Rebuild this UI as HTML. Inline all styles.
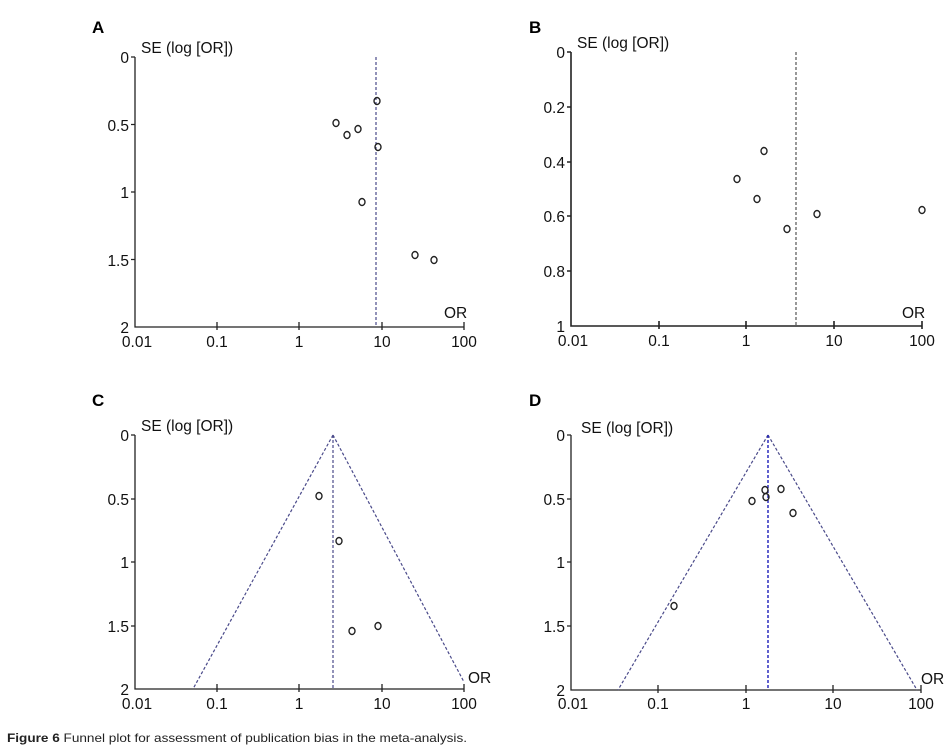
<!DOCTYPE html><html><head><style>body{margin:0;background:#fff}svg{display:block}text{font-family:"Liberation Sans",sans-serif}</style></head><body>
<svg width="951" height="749" viewBox="0 0 951 749" xmlns="http://www.w3.org/2000/svg">
<g font-size="17" font-weight="bold" fill="#000">
<text x="92" y="33">A</text><text x="529" y="33">B</text><text x="92" y="406">C</text><text x="529" y="406">D</text></g>
<g fill="none" stroke="#222" stroke-width="1.3">
<path d="M135 57V327H464M131 57H135M131 124.5H135M131 192H135M131 259.5H135M217 322V330M299 322V330M382 322V330M464 322V330"/>
<path d="M571 52V326H922M567 52H571M567 107H571M567 162H571M567 216H571M567 271H571M659 321V329M746 321V329M834 321V329M922 321V329" stroke-width="1.6"/>
<path d="M135 435V689H464M131 435H135M131 499H135M131 562H135M131 626H135M217 684V692M299 684V692M382 684V692M464 684V692"/>
<path d="M571 435V690H921M567 435H571M567 499H571M567 562H571M567 626H571M658 685V693M746 685V693M833 685V693M921 685V693"/>
</g>
<g fill="none" stroke="#4a4a8a" stroke-width="1.2" stroke-dasharray="3,2">
<path d="M376 57V327"/>
<path d="M796 52V326" stroke="#555"/>
<path d="M333 435V689M333 435L193 689M333 435L464 682"/>
<path d="M768 435V690M768 435L618 690M768 435L917 690"/>
</g>
<path d="M768 435V690" stroke="#2020c0" stroke-width="1.3" stroke-dasharray="3,2"/>
<g fill="none" stroke="#222" stroke-width="1.4">
<ellipse cx="336" cy="123" rx="3" ry="3.5"/><ellipse cx="347" cy="135" rx="3" ry="3.5"/><ellipse cx="358" cy="129" rx="3" ry="3.5"/><ellipse cx="377" cy="101" rx="3" ry="3.5"/><ellipse cx="378" cy="147" rx="3" ry="3.5"/><ellipse cx="362" cy="202" rx="3" ry="3.5"/><ellipse cx="415" cy="255" rx="3" ry="3.5"/><ellipse cx="434" cy="260" rx="3" ry="3.5"/>
<ellipse cx="764" cy="151" rx="3" ry="3.5"/><ellipse cx="737" cy="179" rx="3" ry="3.5"/><ellipse cx="757" cy="199" rx="3" ry="3.5"/><ellipse cx="787" cy="229" rx="3" ry="3.5"/><ellipse cx="817" cy="214" rx="3" ry="3.5"/><ellipse cx="922" cy="210" rx="3" ry="3.5"/>
<ellipse cx="319" cy="496" rx="3" ry="3.5"/><ellipse cx="339" cy="541" rx="3" ry="3.5"/><ellipse cx="352" cy="631" rx="3" ry="3.5"/><ellipse cx="378" cy="626" rx="3" ry="3.5"/>
<ellipse cx="765" cy="490" rx="3" ry="3.5"/><ellipse cx="766" cy="497" rx="3" ry="3.5"/><ellipse cx="752" cy="501" rx="3" ry="3.5"/><ellipse cx="781" cy="489" rx="3" ry="3.5"/><ellipse cx="793" cy="513" rx="3" ry="3.5"/><ellipse cx="674" cy="606" rx="3" ry="3.5"/>
</g>
<g font-size="15.5" fill="#111">
<text x="141" y="53">SE (log [OR])</text><text x="577" y="48">SE (log [OR])</text><text x="141" y="431">SE (log [OR])</text><text x="581" y="433">SE (log [OR])</text>
<text x="444" y="318">OR</text><text x="902" y="318">OR</text><text x="468" y="683">OR</text><text x="921" y="684">OR</text>
<g text-anchor="end">
<text x="129" y="63">0</text><text x="129" y="131">0.5</text><text x="129" y="198">1</text><text x="129" y="266">1.5</text><text x="129" y="333">2</text>
<text x="565" y="58">0</text><text x="565" y="113">0.2</text><text x="565" y="168">0.4</text><text x="565" y="222">0.6</text><text x="565" y="277">0.8</text><text x="565" y="332">1</text>
<text x="129" y="441">0</text><text x="129" y="505">0.5</text><text x="129" y="568">1</text><text x="129" y="632">1.5</text><text x="129" y="695">2</text>
<text x="565" y="441">0</text><text x="565" y="505">0.5</text><text x="565" y="568">1</text><text x="565" y="632">1.5</text><text x="565" y="696">2</text></g>
<g text-anchor="middle">
<text x="137" y="347">0.01</text><text x="217" y="347">0.1</text><text x="299" y="347">1</text><text x="382" y="347">10</text><text x="464" y="347">100</text>
<text x="573" y="346">0.01</text><text x="659" y="346">0.1</text><text x="746" y="346">1</text><text x="834" y="346">10</text><text x="922" y="346">100</text>
<text x="137" y="709">0.01</text><text x="217" y="709">0.1</text><text x="299" y="709">1</text><text x="382" y="709">10</text><text x="464" y="709">100</text>
<text x="573" y="709">0.01</text><text x="658" y="709">0.1</text><text x="746" y="709">1</text><text x="833" y="709">10</text><text x="921" y="709">100</text></g>
</g>
<text x="7" y="742" font-size="12" fill="#222" textLength="460" lengthAdjust="spacingAndGlyphs"><tspan font-weight="bold">Figure 6</tspan> Funnel plot for assessment of publication bias in the meta-analysis.</text>
</svg></body></html>
